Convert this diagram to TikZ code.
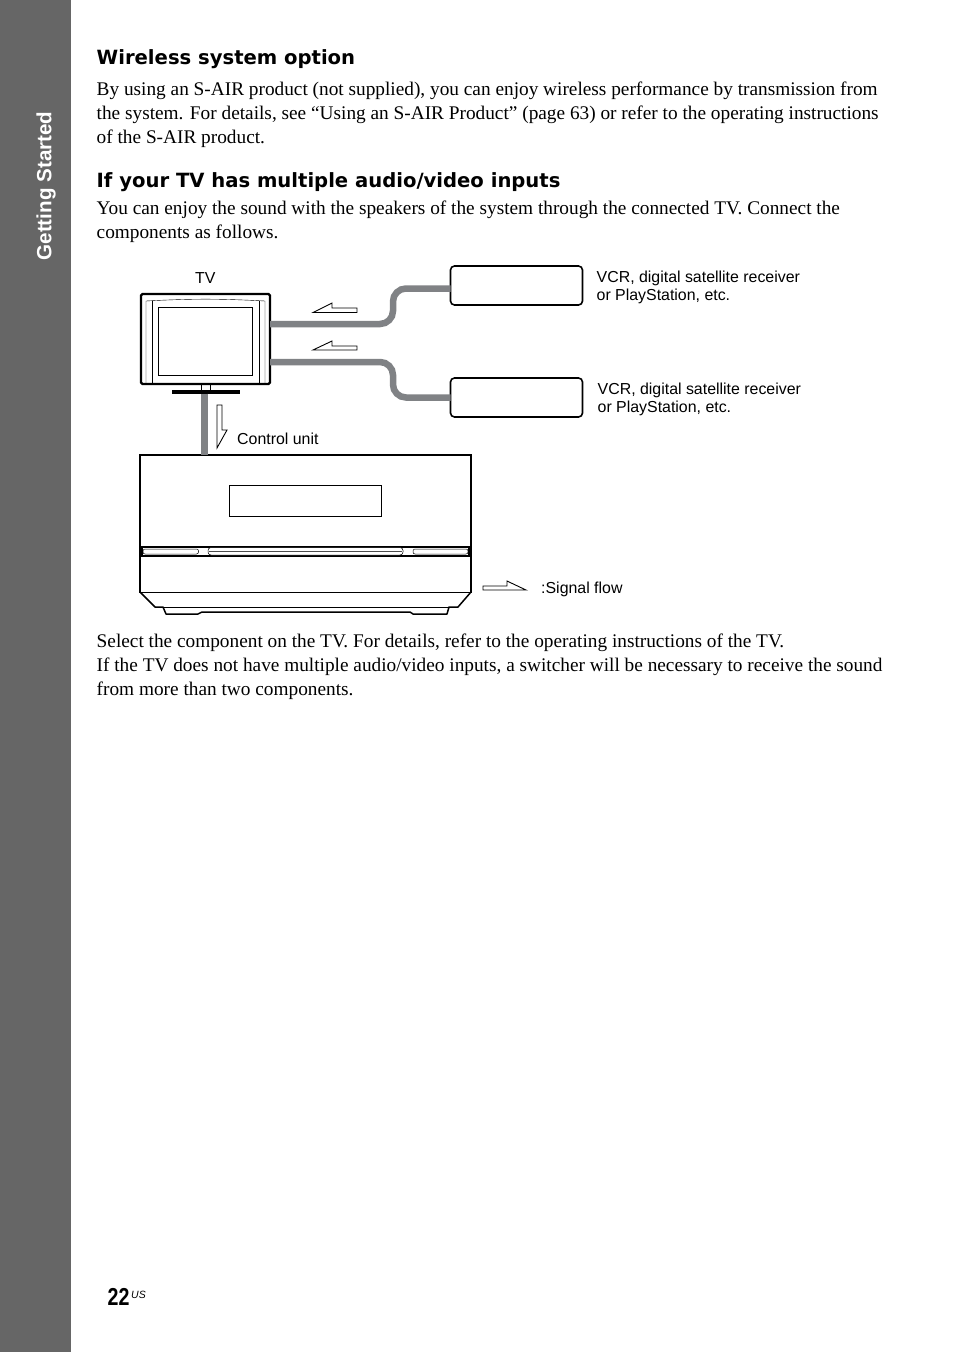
\documentclass[tikz,border=0pt]{standalone}
\usepackage{fontspec}
\setmainfont{Liberation Serif}
\newfontfamily\labelfont{Liberation Sans}
\newfontfamily\headfont{DejaVu Sans}
\definecolor{tabgray}{HTML}{666666}
\definecolor{cablegray}{HTML}{808285}
\begin{document}
\begin{tikzpicture}[
    x=1pt,
    y=-1pt,
    body/.style={
        anchor=north west,
        inner sep=0pt,
        align=left,
        font=\fontsize{19.3}{23.9}\selectfont
    },
    heading/.style={
        anchor=base west,
        inner sep=0pt,
        font=\headfont\bfseries\fontsize{19.6}{22}\selectfont
    },
    lbl/.style={
        anchor=north west,
        inner sep=0pt,
        align=left,
        font=\labelfont\fontsize{15.9}{18.2}\selectfont
    },
    source/.style={
        draw=black,
        line width=1.6pt,
        rounded corners=4pt,
        minimum width=132pt,
        minimum height=39pt,
        outer sep=0pt,
        fill=white
    },
    cable/.style={
        draw=cablegray,
        line width=6.5pt,
        rounded corners=13pt
    },
    flow/.style={
        draw=black,
        line width=0.9pt,
        fill=white
    },
    plain/.style={
        draw=black,
        line width=1.1pt
    }
]

    % page frame
    \useasboundingbox (0,0) rectangle (954,1352);
    \fill[white] (0,0) rectangle (954,1352);
    \fill[tabgray] (0,0) rectangle (71,1352);

    \node[
        rotate=90,
        text=white,
        inner sep=0pt,
        font=\labelfont\bfseries\fontsize{20.6}{22}\selectfont
    ] (tab) at (46,186) {Getting Started};

    % text above the diagram
    \node[heading] (wireless) at (96.5,64) {Wireless system option};
    \node[body] (wirelesstext) at (96.5,81.5)
        {By using an S-AIR product (not supplied), you can enjoy wireless performance by transmission from\\
         the system. For details, see “Using an S-AIR Product” (page 63) or refer to the operating instructions\\
         of the S-AIR product.};
    \node[heading] (inputs) at (96.5,187.5) {If your TV has multiple audio/video inputs};
    \node[body] (inputstext) at (96.5,201)
        {You can enjoy the sound with the speakers of the system through the connected TV. Connect the\\
         components as follows.};

    % sources
    \node[source] (top) at (516.5,285.5) {};
    \node[source] (bottom) at (516.5,397.5) {};

    % television
    \node[
        draw=black,
        line width=2.4pt,
        rounded corners=1.5pt,
        minimum width=129pt,
        minimum height=90pt,
        outer sep=0pt
    ] (tv) at (205.5,339) {};
    \node[
        draw=black,
        line width=0.5pt,
        minimum width=94pt,
        minimum height=68pt,
        outer sep=0pt
    ] (screen) at (205,341) {};
    \draw[line width=0.4pt] (146,384) -- (146,301) to[bend left=3] (265,301) -- (265,384);
    \draw[line width=0.4pt] (152,384) -- (152,301);
    \draw[line width=0.4pt] (259,384) -- (259,301);
    \node[
        draw=black,
        line width=0.6pt,
        minimum width=9pt,
        minimum height=7pt,
        outer sep=0pt,
        anchor=north
    ] (neck) at (tv.south) {};
    \node[
        fill=black,
        minimum width=68pt,
        minimum height=3.5pt,
        inner sep=0pt,
        outer sep=0pt
    ] (foot) at (205.5,392) {};

    % control unit
    \node[
        draw=black,
        line width=1.5pt,
        minimum width=331pt,
        minimum height=137.5pt,
        outer sep=0pt
    ] (unit) at (305.5,523.75) {};
    \node[
        draw=black,
        line width=0.7pt,
        minimum width=152pt,
        minimum height=31pt,
        outer sep=0pt
    ] (window) at (305.5,500.5) {};
    \draw[plain] (140,547) -- (471,547);
    \draw[line width=1.4pt] (140,556) -- (471,556);
    \fill (140,547) rectangle (143,556);
    \fill (468,547) rectangle (471,556);
    \draw[line width=0.5pt, rounded corners=2pt] (143,549) rectangle (198.5,554);
    \draw[line width=0.5pt, rounded corners=2pt] (413,549) rectangle (468,554);
    \draw[line width=0.5pt, rounded corners=3pt, fill=white] (208,547.5) rectangle (403,555);
    \draw[line width=0.7pt, draw=black!70] (209,551) -- (402,551);
    \draw[plain, line join=round, line width=1.5pt]
        (140,592) -- (155,607) -- (163,607) -- (166,614) -- (198,614) -- (202,612)
        -- (410,612) -- (413,614) -- (447,614) -- (449,607) -- (458,607) -- (471,592);
    \draw[line width=0.7pt] (155,607) -- (458,607);

    % cables
    \coordinate (topin) at (tv.east |- 0,324);
    \coordinate (bottomin) at (tv.east |- 0,362);
    \coordinate (topout) at (top.west |- 0,288.5);
    \coordinate (bottomout) at (bottom.west);
    \coordinate (downin) at (204.5,393.5);
    \coordinate (downout) at (204.5,455);
    \draw[cable] (topin) -- (393,324) -- (393,288.5) -- (topout);
    \draw[cable] (bottomin) -- (393,362) -- (393,397.5) -- (bottomout);
    \draw[cable, line width=7pt] (downin) -- (downout);

    % signal arrows
    \draw[flow] (313,312.5) -- (332,303) -- (332,308) -- (357,308) -- (357,312.5) -- cycle;
    \draw[flow] (313,350) -- (332,341) -- (332,346) -- (357,346) -- (357,350) -- cycle;
    \draw[flow] (217,405) -- (222,405) -- (222,430) -- (227,430) -- (217,448) -- cycle;
    \draw[flow] (483,586) -- (507,586) -- (507,581) -- (526,590) -- (483,590) -- cycle;

    % labels
    \node[lbl] (tvlabel) at (195,272) {TV};
    \node[lbl] (toplabel) at (596.5,271) {VCR, digital satellite receiver\\or PlayStation, etc.};
    \node[lbl] (bottomlabel) at (597.5,383) {VCR, digital satellite receiver\\or PlayStation, etc.};
    \node[lbl] (unitlabel) at (237,433) {Control unit};
    \node[lbl] (flowlabel) at (541,582) {:Signal flow};

    % text below the diagram
    \node[body] (selecttext) at (96.5,634)
        {Select the component on the TV. For details, refer to the operating instructions of the TV.\\
         If the TV does not have multiple audio/video inputs, a switcher will be necessary to receive the sound\\
         from more than two components.};

    % page number
    \node[
        anchor=base west,
        inner sep=0pt,
        xscale=0.8,
        font=\labelfont\bfseries\fontsize{24.5}{26}\selectfont
    ] (pagenum) at (107.5,1305) {22};
    \node[
        anchor=base west,
        inner sep=0pt,
        font=\labelfont\itshape\fontsize{10.5}{12}\selectfont
    ] (pageus) at (131,1298) {US};

\end{tikzpicture}
\end{document}
